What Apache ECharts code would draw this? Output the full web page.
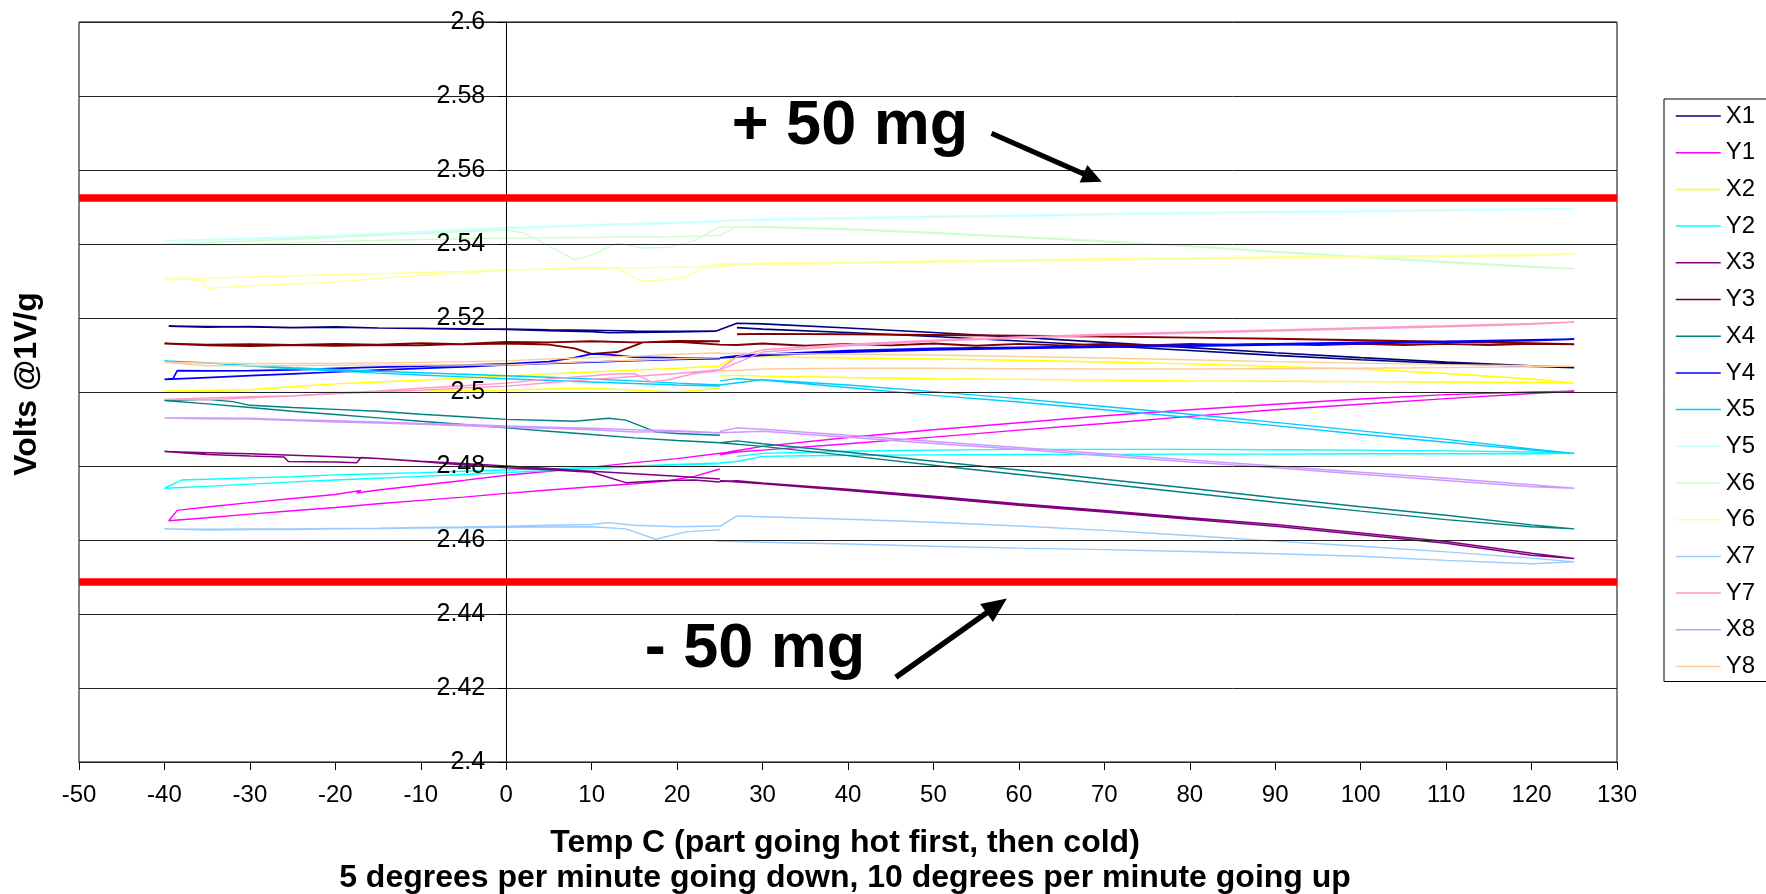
<!DOCTYPE html>
<html><head><meta charset="utf-8">
<script src="https://cdn.jsdelivr.net/npm/echarts@6/dist/echarts.min.js"></script>
<style>html,body{margin:0;padding:0;background:#fff}#c{width:1766px;height:894px}</style>
</head><body><div id="c"></div>
<script>
// ---------- DATA ----------
const seriesNames = ['X1','Y1','X2','Y2','X3','Y3','X4','Y4','X5','Y5','X6','Y6','X7','Y7','X8','Y8'];
const limitHigh = 2.5524;   // + 50 mg
const limitLow  = 2.4486;   // - 50 mg
// each part: hot loop (25 -> 125 -> 25) and cold loop (25 -> -40 -> 25), [temp C, volts]
const X1_hot = [[24.5,2.5164],[27,2.5186],[30,2.5184],[40,2.5173],[50,2.5161],[60,2.5148],[70,2.5134],[80,2.5120],[90,2.5106],[100,2.5093],[110,2.5081],[120,2.5071],[125,2.5066],[120,2.5069],[110,2.5077],[100,2.5087],[90,2.5099],[80,2.5112],[70,2.5125],[60,2.5138],[50,2.5150],[40,2.5161],[30,2.5170],[27,2.5174]];
const X1_cold = [[24.5,2.5164],[20,2.5162],[15,2.5161],[12,2.5160],[10,2.5163],[5,2.5166],[0,2.5169],[-5,2.5171],[-10,2.5172],[-15,2.5173],[-20,2.5175],[-25,2.5174],[-30,2.5176],[-35,2.5177],[-39.5,2.5178],[-35,2.5175],[-30,2.5177],[-25,2.5174],[-20,2.5176],[-15,2.5173],[-10,2.5172],[-5,2.5170],[0,2.5170],[5,2.5168],[10,2.5167],[15,2.5165],[20,2.5164],[24.5,2.5165]];
const Y1_hot = [[25,2.4830],[27,2.4838],[30,2.4843],[40,2.4860],[50,2.4878],[60,2.4897],[70,2.4915],[80,2.4934],[90,2.4952],[100,2.4967],[110,2.4982],[120,2.4996],[125,2.5002],[120,2.5000],[110,2.4993],[100,2.4981],[90,2.4967],[80,2.4952],[70,2.4936],[60,2.4917],[50,2.4898],[40,2.4877],[30,2.4853],[26,2.4838]];
const Y1_cold = [[26,2.4837],[20,2.4820],[15,2.4809],[10,2.4797],[5,2.4786],[0,2.4775],[-5,2.4761],[-10,2.4748],[-15,2.4735],[-17.5,2.4727],[-17,2.4734],[-20,2.4723],[-25,2.4712],[-30,2.4701],[-35,2.4689],[-38.5,2.4680],[-39.5,2.4652],[-35,2.4660],[-30,2.4670],[-25,2.4679],[-20,2.4688],[-15,2.4698],[-10,2.4707],[-5,2.4716],[0,2.4726],[5,2.4735],[10,2.4744],[15,2.4752],[19,2.4760],[22,2.4772],[25,2.4792]];
const X2_hot = [[25,2.5043],[27,2.5045],[30,2.5043],[40,2.5039],[50,2.5036],[60,2.5034],[70,2.5032],[80,2.5030],[90,2.5029],[100,2.5028],[110,2.5027],[120,2.5026],[125,2.5024],[120,2.5035],[110,2.5050],[100,2.5062],[90,2.5069],[80,2.5076],[70,2.5081],[60,2.5086],[50,2.5089],[40,2.5092],[30,2.5095],[27,2.5098],[25,2.5072]];
const X2_cold = [[25,2.5070],[20,2.5064],[15,2.5059],[10,2.5054],[5,2.5049],[0,2.5043],[-5,2.5038],[-10,2.5032],[-15,2.5027],[-20,2.5022],[-25,2.5014],[-30,2.5006],[-35,2.5004],[-40,2.5003],[-35,2.5002],[-30,2.4999],[-25,2.4999],[-20,2.5000],[-15,2.5001],[-10,2.5003],[-5,2.5004],[0,2.5005],[5,2.5008],[10,2.5010],[15,2.5005],[20,2.5000],[25,2.5010]];
const Y2_hot = [[25,2.4808],[27,2.4812],[30,2.4826],[40,2.4829],[50,2.4830],[60,2.4831],[70,2.4831],[80,2.4832],[90,2.4832],[100,2.4833],[110,2.4833],[120,2.4833],[125,2.4834],[120,2.4838],[110,2.4841],[100,2.4843],[90,2.4844],[80,2.4845],[70,2.4845],[60,2.4845],[50,2.4843],[40,2.4840],[30,2.4834],[27,2.4826]];
const Y2_cold = [[25,2.4808],[20,2.4804],[15,2.4800],[10,2.4796],[5,2.4792],[0,2.4789],[-5,2.4786],[-10,2.4782],[-15,2.4779],[-20,2.4776],[-25,2.4771],[-30,2.4768],[-35,2.4764],[-38,2.4762],[-40,2.4740],[-35,2.4745],[-30,2.4751],[-25,2.4757],[-20,2.4762],[-15,2.4767],[-10,2.4772],[-5,2.4777],[0,2.4782],[5,2.4788],[10,2.4793],[15,2.4798],[20,2.4803],[25,2.4806]];
const X3_hot = [[25,2.4758],[27,2.4760],[30,2.4754],[40,2.4737],[50,2.4718],[60,2.4698],[70,2.4680],[80,2.4660],[90,2.4642],[100,2.4619],[110,2.4596],[120,2.4564],[125,2.4550],[120,2.4559],[110,2.4591],[100,2.4614],[90,2.4637],[80,2.4656],[70,2.4676],[60,2.4694],[50,2.4714],[40,2.4734],[30,2.4752],[25,2.4760]];
const X3_cold = [[25,2.4765],[20,2.4772],[15,2.4779],[10,2.4786],[5,2.4793],[0,2.4800],[-5,2.4807],[-10,2.4813],[-15,2.4820],[-20,2.4825],[-25,2.4829],[-30,2.4833],[-35,2.4836],[-40,2.4839],[-35,2.4831],[-30,2.4827],[-26,2.4824],[-25.5,2.4812],[-20,2.4811],[-17.5,2.4809],[-17,2.4823],[-15,2.4820],[-10,2.4812],[-5,2.4803],[0,2.4795],[5,2.4790],[10,2.4783],[14,2.4755],[18,2.4760],[22,2.4762],[25,2.4757]];
const Y3_hot = [[25,2.5128],[27,2.5127],[30,2.5131],[35,2.5125],[40,2.5130],[45,2.5126],[50,2.5131],[55,2.5125],[60,2.5130],[65,2.5126],[70,2.5130],[75,2.5126],[80,2.5130],[85,2.5127],[90,2.5130],[95,2.5127],[100,2.5130],[105,2.5127],[110,2.5130],[115,2.5127],[120,2.5130],[125,2.5129],[120,2.5132],[110,2.5136],[100,2.5140],[90,2.5144],[80,2.5147],[70,2.5150],[60,2.5152],[50,2.5154],[40,2.5156],[30,2.5157],[27,2.5156]];
const Y3_cold = [[25,2.5137],[20,2.5138],[16,2.5134],[13,2.5108],[10,2.5103],[8,2.5118],[5,2.5128],[0,2.5131],[-5,2.5129],[-10,2.5132],[-15,2.5128],[-20,2.5130],[-25,2.5127],[-30,2.5129],[-35,2.5128],[-40,2.5131],[-35,2.5126],[-30,2.5124],[-25,2.5127],[-20,2.5125],[-15,2.5127],[-10,2.5126],[-5,2.5130],[0,2.5135],[5,2.5134],[10,2.5137],[15,2.5134],[20,2.5136],[25,2.5128]];
const X4_hot = [[25,2.4863],[27,2.4868],[30,2.4860],[40,2.4837],[50,2.4813],[60,2.4789],[70,2.4764],[80,2.4740],[90,2.4714],[100,2.4690],[110,2.4667],[120,2.4641],[125,2.4630],[120,2.4636],[110,2.4655],[100,2.4678],[90,2.4702],[80,2.4727],[70,2.4752],[60,2.4777],[50,2.4802],[40,2.4828],[30,2.4853],[25,2.4863]];
const X4_cold = [[25,2.4863],[20,2.4869],[15,2.4876],[10,2.4885],[5,2.4894],[0,2.4903],[-5,2.4912],[-10,2.4921],[-15,2.4930],[-20,2.4939],[-25,2.4948],[-30,2.4958],[-35,2.4968],[-40,2.4977],[-35,2.4980],[-32,2.4974],[-30,2.4964],[-25,2.4958],[-20,2.4953],[-15,2.4948],[-10,2.4940],[-5,2.4933],[0,2.4926],[5,2.4923],[8,2.4921],[12,2.4929],[14,2.4924],[17.5,2.4892],[20,2.4888],[25,2.4883]];
const Y4_hot = [[25,2.5092],[27,2.5098],[30,2.5102],[40,2.5112],[50,2.5118],[60,2.5121],[70,2.5124],[80,2.5127],[90,2.5130],[100,2.5134],[110,2.5137],[120,2.5141],[125,2.5143],[120,2.5139],[110,2.5135],[100,2.5131],[90,2.5127],[80,2.5124],[70,2.5121],[60,2.5118],[50,2.5114],[40,2.5108],[30,2.5099],[25,2.5092]];
const Y4_cold = [[25,2.5091],[20,2.5092],[15,2.5094],[12,2.5101],[10,2.5103],[8,2.5093],[5,2.5082],[0,2.5076],[-5,2.5073],[-10,2.5070],[-15,2.5067],[-20,2.5064],[-25,2.5060],[-30,2.5058],[-35,2.5057],[-38.5,2.5058],[-39,2.5036],[-40,2.5034],[-35,2.5039],[-30,2.5044],[-25,2.5049],[-20,2.5054],[-15,2.5059],[-10,2.5064],[-5,2.5068],[0,2.5073],[5,2.5077],[10,2.5081],[15,2.5085],[20,2.5088],[25,2.5090]];
const X5_hot = [[25,2.5030],[27,2.5036],[30,2.5032],[40,2.5012],[50,2.4991],[60,2.4973],[70,2.4952],[80,2.4931],[90,2.4909],[100,2.4886],[110,2.4864],[120,2.4843],[125,2.4834],[120,2.4846],[110,2.4872],[100,2.4895],[90,2.4918],[80,2.4940],[70,2.4961],[60,2.4982],[50,2.5001],[40,2.5019],[30,2.5033],[25,2.5019]];
const X5_cold = [[25,2.5019],[20,2.5024],[15,2.5030],[10,2.5035],[5,2.5040],[0,2.5044],[-5,2.5048],[-10,2.5052],[-15,2.5056],[-20,2.5061],[-25,2.5066],[-30,2.5072],[-35,2.5078],[-40,2.5084],[-35,2.5079],[-30,2.5070],[-25,2.5063],[-20,2.5057],[-15,2.5051],[-10,2.5046],[-5,2.5041],[0,2.5036],[5,2.5031],[10,2.5027],[15,2.5023],[20,2.5019],[25,2.5016]];
const Y5_hot = [[25,2.5463],[30,2.5467],[40,2.5471],[50,2.5475],[60,2.5478],[70,2.5482],[80,2.5485],[90,2.5488],[100,2.5490],[110,2.5493],[120,2.5495],[125,2.5496],[120,2.5493],[110,2.5490],[100,2.5487],[90,2.5485],[80,2.5482],[70,2.5479],[60,2.5475],[50,2.5472],[40,2.5468],[30,2.5464],[25,2.5462]];
const Y5_cold = [[25,2.5463],[20,2.5459],[10,2.5452],[0,2.5445],[-10,2.5434],[-20,2.5423],[-30,2.5416],[-40,2.5409],[-30,2.5413],[-20,2.5420],[-10,2.5431],[0,2.5442],[10,2.5449],[20,2.5456],[25,2.5460]];
const X6_hot = [[25,2.5423],[27,2.5446],[30,2.5447],[40,2.5441],[50,2.5431],[60,2.5420],[70,2.5408],[80,2.5395],[90,2.5380],[100,2.5366],[110,2.5352],[120,2.5339],[125,2.5333],[120,2.5337],[110,2.5350],[100,2.5364],[90,2.5378],[80,2.5393],[70,2.5406],[60,2.5418],[50,2.5429],[40,2.5439],[30,2.5445],[25,2.5446]];
const X6_cold = [[25,2.5446],[22,2.5409],[19,2.5391],[16,2.5389],[13,2.5403],[10,2.5370],[8,2.5357],[5,2.5395],[2,2.5430],[0,2.5438],[-5,2.5433],[-10,2.5428],[-15,2.5423],[-20,2.5418],[-25,2.5413],[-30,2.5408],[-35,2.5404],[-40,2.5400],[-35,2.5397],[-30,2.5399],[-25,2.5403],[-20,2.5407],[-15,2.5410],[-10,2.5412],[-5,2.5414],[0,2.5416],[5,2.5417],[10,2.5418],[15,2.5419],[20,2.5420],[25,2.5423]];
const Y6_hot = [[25,2.5338],[27,2.5345],[30,2.5348],[40,2.5351],[50,2.5354],[60,2.5357],[70,2.5360],[80,2.5362],[90,2.5365],[100,2.5367],[110,2.5369],[120,2.5371],[125,2.5373],[120,2.5368],[110,2.5366],[100,2.5364],[90,2.5362],[80,2.5359],[70,2.5357],[60,2.5354],[50,2.5351],[40,2.5348],[30,2.5345],[25,2.5346]];
const Y6_cold = [[25,2.5346],[23,2.5337],[21,2.5310],[19,2.5304],[17,2.5300],[15.5,2.5302],[13,2.5335],[10,2.5336],[5,2.5333],[0,2.5329],[-5,2.5322],[-10,2.5315],[-15,2.5307],[-20,2.5297],[-25,2.5292],[-30,2.5287],[-35,2.5280],[-35.5,2.5302],[-40,2.5307],[-35,2.5308],[-30,2.5311],[-25,2.5314],[-20,2.5317],[-15,2.5320],[-10,2.5323],[-5,2.5326],[0,2.5330],[5,2.5332],[10,2.5334],[15,2.5336],[20,2.5337],[25,2.5338]];
const X7_hot = [[25,2.4637],[27,2.4665],[30,2.4663],[40,2.4656],[50,2.4648],[60,2.4638],[70,2.4626],[80,2.4612],[90,2.4597],[100,2.4583],[110,2.4568],[120,2.4551],[125,2.4541],[120,2.4536],[110,2.4545],[100,2.4556],[90,2.4563],[80,2.4569],[70,2.4574],[60,2.4578],[50,2.4583],[40,2.4589],[30,2.4594],[24.5,2.4597]];
const X7_cold = [[25,2.4638],[20,2.4636],[15,2.4640],[12,2.4647],[10,2.4642],[5,2.4640],[0,2.4637],[-5,2.4635],[-10,2.4634],[-15,2.4632],[-20,2.4631],[-25,2.4630],[-30,2.4630],[-35,2.4629],[-40,2.4630],[-35,2.4627],[-30,2.4628],[-25,2.4628],[-20,2.4630],[-15,2.4631],[-10,2.4632],[-5,2.4633],[0,2.4634],[5,2.4635],[10,2.4636],[14,2.4630],[17.5,2.4602],[21,2.4622],[25,2.4628]];
const Y7_hot = [[25,2.5062],[27,2.5095],[30,2.5114],[40,2.5129],[50,2.5140],[60,2.5149],[70,2.5156],[80,2.5162],[90,2.5168],[100,2.5174],[110,2.5179],[120,2.5185],[125,2.5189],[120,2.5183],[110,2.5176],[100,2.5171],[90,2.5165],[80,2.5159],[70,2.5153],[60,2.5146],[50,2.5137],[40,2.5125],[30,2.5108],[25,2.5060]];
const Y7_cold = [[25,2.5058],[22,2.5050],[19,2.5033],[17,2.5027],[15,2.5050],[12,2.5048],[10,2.5044],[5,2.5035],[0,2.5024],[-5,2.5017],[-10,2.5010],[-15,2.5003],[-20,2.4997],[-25,2.4990],[-30,2.4987],[-35,2.4984],[-40,2.4980],[-35,2.4979],[-30,2.4984],[-25,2.4989],[-20,2.4995],[-15,2.5000],[-10,2.5005],[-5,2.5011],[0,2.5016],[5,2.5025],[10,2.5034],[15,2.5042],[20,2.5050],[25,2.5060]];
const X8_hot = [[25,2.4893],[27,2.4903],[30,2.4899],[40,2.4883],[50,2.4866],[60,2.4850],[70,2.4833],[80,2.4816],[90,2.4800],[100,2.4783],[110,2.4767],[120,2.4749],[125,2.4740],[120,2.4744],[110,2.4761],[100,2.4778],[90,2.4795],[80,2.4811],[70,2.4828],[60,2.4845],[50,2.4861],[40,2.4878],[30,2.4894],[25,2.4890]];
const X8_cold = [[25,2.4890],[20,2.4895],[15,2.4898],[10,2.4902],[5,2.4905],[0,2.4908],[-5,2.4912],[-10,2.4915],[-15,2.4919],[-20,2.4922],[-25,2.4925],[-30,2.4929],[-35,2.4930],[-40,2.4930],[-35,2.4928],[-30,2.4927],[-25,2.4923],[-20,2.4919],[-15,2.4916],[-10,2.4913],[-5,2.4909],[0,2.4905],[5,2.4902],[10,2.4898],[15,2.4892],[20,2.4893],[25,2.4889]];
const Y8_hot = [[25,2.5104],[27,2.5105],[30,2.5104],[40,2.5102],[50,2.5100],[60,2.5096],[70,2.5092],[80,2.5087],[90,2.5082],[100,2.5078],[110,2.5074],[120,2.5071],[125,2.5070],[120,2.5068],[110,2.5066],[100,2.5064],[90,2.5063],[80,2.5062],[70,2.5062],[60,2.5063],[50,2.5064],[40,2.5064],[30,2.5062],[27,2.5058],[25,2.5058]];
const Y8_cold = [[25,2.5106],[20,2.5102],[15,2.5097],[10,2.5093],[5,2.5089],[0,2.5084],[-10,2.5080],[-20,2.5077],[-30,2.5077],[-40,2.5080],[-35,2.5071],[-30,2.5071],[-20,2.5072],[-10,2.5073],[0,2.5073],[5,2.5078],[10,2.5082],[15,2.5086],[20,2.5090],[25,2.5093]];

const hotLoops  = [X1_hot,Y1_hot,X2_hot,Y2_hot,X3_hot,Y3_hot,X4_hot,Y4_hot,X5_hot,Y5_hot,X6_hot,Y6_hot,X7_hot,Y7_hot,X8_hot,Y8_hot];
const coldLoops = [X1_cold,Y1_cold,X2_cold,Y2_cold,X3_cold,Y3_cold,X4_cold,Y4_cold,X5_cold,Y5_cold,X6_cold,Y6_cold,X7_cold,Y7_cold,X8_cold,Y8_cold];

// ---------- STYLE ----------
const colors = ['#000080','#FF00FF','#FFFF00','#00FFFF','#800080','#800000','#008080','#0000FF','#00CCFF','#CCFFFF','#CCFFCC','#FFFF99','#99CCFF','#FF99CC','#CC99FF','#FFCC99'];
const widths = [1.6,1.4,1.4,1.4,1.5,1.9,1.4,1.7,1.4,1.4,1.4,1.4,1.4,1.4,1.5,1.4];
const FONT = '"Liberation Sans", Arial, sans-serif';
const GRID = { left: 79, right: 149, top: 22, bottom: 132 };

const chart = echarts.init(document.getElementById('c'), null, {renderer:'canvas'});

const series = seriesNames.map((n, i) => ({
  name: n, type: 'line', symbol: 'none', showSymbol: false, connectNulls: false,
  data: hotLoops[i].concat([['-','-']], coldLoops[i]),
  lineStyle: { color: colors[i], width: widths[i] },
  itemStyle: { color: colors[i] },
  emphasis: { disabled: true },
  z: 2
}));
series[0].markLine = {
  silent: true, symbol: 'none', animation: false, precision: 6,
  label: { show: false },
  lineStyle: { color: '#FF0000', width: 7.5, type: 'solid', opacity: 1 },
  emphasis: { disabled: true },
  data: [{ yAxis: limitHigh }, { yAxis: limitLow }]
};

const option = {
  animation: false,
  backgroundColor: '#ffffff',
  textStyle: { fontFamily: FONT },
  grid: Object.assign({ containLabel: false, outerBoundsMode: 'none',
          show: true, borderColor: '#000', borderWidth: 1, backgroundColor: 'transparent' }, GRID),
  legend: {
    orient: 'vertical', left: 1664, top: 99,
    data: seriesNames,
    itemWidth: 45, itemHeight: 14, itemGap: 10.7,
    padding: [4, 40, 2, 11],
    borderColor: '#000', borderWidth: 1, backgroundColor: '#fff',
    itemStyle: { opacity: 0, borderWidth: 0 },
    lineStyle: { width: 1.5 },
    textStyle: { fontFamily: FONT, fontSize: 24, color: '#000', lineHeight: 26 },
    selectedMode: false
  },
  xAxis: {
    type: 'value', min: -50, max: 130, interval: 10,
    axisLine: { show: true, onZero: false, lineStyle: { color: '#000', width: 1 } },
    axisTick: { show: true, length: 8, lineStyle: { color: '#000' } },
    axisLabel: { fontFamily: FONT, fontSize: 24, color: '#000', margin: 21 },
    splitLine: { show: false }
  },
  yAxis: {
    type: 'value', min: 2.4, max: 2.6, interval: 0.02,
    axisLine: { show: true, onZero: false, lineStyle: { color: '#000', width: 1 } },
    axisTick: { show: true, length: 8, lineStyle: { color: '#000' } },
    axisLabel: { fontFamily: FONT, fontSize: 25, color: '#000', margin: 21,
                 formatter: v => String(+v.toFixed(2)) },
    splitLine: { show: true, lineStyle: { color: '#222', width: 1 } },
    z: 3
  },
  series: series
};
chart.setOption(option);

// place the value axis on x = 0 (axis line, ticks and labels together)
const x0 = chart.convertToPixel({ xAxisIndex: 0 }, 0);
chart.setOption({ yAxis: { offset: -(x0 - GRID.left) } });

// ---------- ANNOTATIONS (anchored in data space) ----------
const P = (x, y) => chart.convertToPixel({ gridIndex: 0 }, [x, y]);
function arrow(a, b, w, headLen, headW) {
  const dx = b[0] - a[0], dy = b[1] - a[1], L = Math.hypot(dx, dy);
  const ux = dx / L, uy = dy / L, nx = -uy, ny = ux;
  const bx = b[0] - ux * headLen, by = b[1] - uy * headLen;
  return [
    { type: 'line', z: 100, shape: { x1: a[0], y1: a[1], x2: bx + ux * 2, y2: by + uy * 2 },
      style: { stroke: '#000', lineWidth: w } },
    { type: 'polygon', z: 100, shape: { points: [[b[0], b[1]], [bx + nx * headW / 2, by + ny * headW / 2], [bx - nx * headW / 2, by - ny * headW / 2]] },
      style: { fill: '#000' } }
  ];
}
const upText = P(26.4, 2.5717), loText = P(16.2, 2.4305);
const graphics = [
  { type: 'text', z: 100, x: upText[0], y: upText[1],
    style: { text: '+ 50 mg', font: 'bold 63px ' + FONT, fill: '#000', align: 'left', verticalAlign: 'middle' } },
  { type: 'text', z: 100, x: loText[0], y: loText[1],
    style: { text: '- 50 mg', font: 'bold 63px ' + FONT, fill: '#000', align: 'left', verticalAlign: 'middle' } },
  ...arrow(P(56.8, 2.5699), P(69.7, 2.5568), 5, 20, 19),
  ...arrow(P(45.6, 2.4229), P(58.6, 2.4442), 5.5, 25, 22),
  { type: 'text', z: 100, x: 27, y: 384, rotation: Math.PI / 2,
    style: { text: 'Volts @1V/g', font: 'bold 32px ' + FONT, fill: '#000', align: 'center', verticalAlign: 'middle' } },
  { type: 'text', z: 100, x: 845, y: 843,
    style: { text: 'Temp C (part going hot first, then cold)', font: 'bold 32px ' + FONT, fill: '#000', align: 'center', verticalAlign: 'middle' } },
  { type: 'text', z: 100, x: 845, y: 878,
    style: { text: '5 degrees per minute going down, 10 degrees per minute going up', font: 'bold 32px ' + FONT, fill: '#000', align: 'center', verticalAlign: 'middle' } }
];
chart.setOption({ graphic: graphics });
</script></body></html>
